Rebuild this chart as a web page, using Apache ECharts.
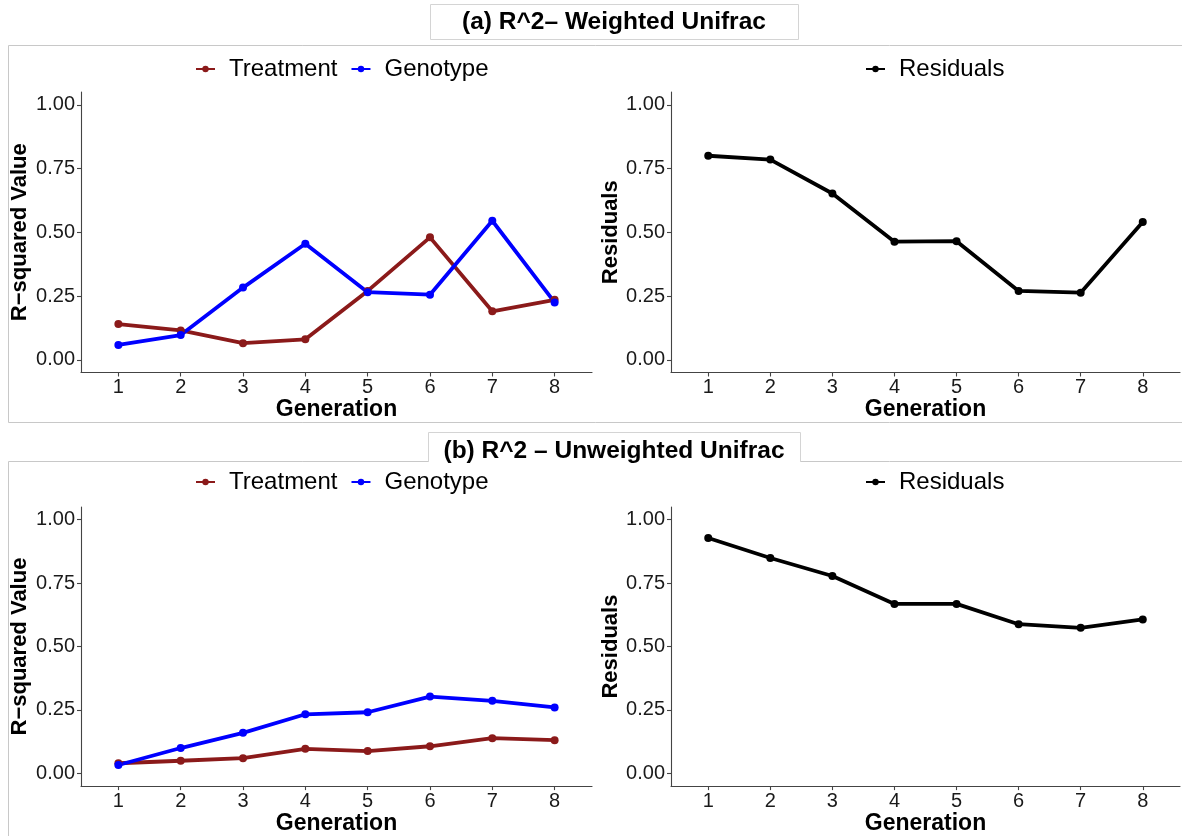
<!DOCTYPE html>
<html>
<head>
<meta charset="utf-8">
<script src="https://cdn.jsdelivr.net/npm/echarts@6/dist/echarts.min.js"></script>
<style>
  html, body { margin: 0; padding: 0; background: #ffffff; }
  #chart { width: 1182px; height: 836px; }
</style>
</head>
<body>
<div id="chart"></div>
<script>
// Generations on the x axis
const generations = [1, 2, 3, 4, 5, 6, 7, 8];
const yTicks = [0, 0.25, 0.5, 0.75, 1];

// (a) Weighted UniFrac: R^2 per term and residual share
const weightedTreatment = [0.140, 0.115, 0.065, 0.080, 0.270, 0.480, 0.190, 0.235];
const weightedGenotype  = [0.058, 0.097, 0.283, 0.455, 0.265, 0.255, 0.545, 0.225];
const weightedResiduals = [0.800, 0.785, 0.652, 0.463, 0.465, 0.270, 0.263, 0.540];

// (b) Unweighted UniFrac
const unweightedTreatment = [0.040, 0.050, 0.060, 0.097, 0.088, 0.107, 0.139, 0.131];
const unweightedGenotype  = [0.033, 0.100, 0.160, 0.233, 0.241, 0.303, 0.286, 0.260];
const unweightedResiduals = [0.928, 0.849, 0.778, 0.668, 0.668, 0.588, 0.574, 0.607];

const titleA = '(a) R^2\u2013 Weighted Unifrac';
const titleB = '(b) R^2 \u2013 Unweighted Unifrac';

const FONT = '"Liberation Sans", Arial, Helvetica, sans-serif';
const RED = '#8B1A1A';
const BLUE = '#0000FF';
const BLACK = '#000000';

const pairs = vals => generations.map((g, i) => [g, vals[i]]);

// Grid boxes (left, top, width, height)
const grids = [
  { left: 81,  top: 92,  width: 511, height: 280.5 },
  { left: 671, top: 92,  width: 509, height: 280.5 },
  { left: 81,  top: 507, width: 511, height: 280 },
  { left: 671, top: 507, width: 509, height: 280 }
];

const axisLineStyle = { color: '#444444', width: 1.1 };

const xAxes = grids.map((g, i) => ({
  type: 'value',
  gridIndex: i,
  min: 0.4,
  max: 8.6,
  name: 'Generation',
  nameLocation: 'middle',
  nameGap: 23,
  nameTextStyle: { fontFamily: FONT, fontSize: 23, fontWeight: 'bold', color: '#000' },
  axisLine: { show: true, onZero: false, lineStyle: axisLineStyle },
  axisTick: { show: true, length: 4, lineStyle: axisLineStyle, customValues: generations },
  axisLabel: {
    fontFamily: FONT, fontSize: 20, color: '#1a1a1a', margin: 5,
    customValues: generations,
    formatter: v => String(Math.round(v))
  },
  splitLine: { show: false }
}));

const yNames = ['R\u2212squared Value', 'Residuals', 'R\u2212squared Value', 'Residuals'];
const yGaps = [50, 43, 50, 43];

const yAxes = grids.map((g, i) => ({
  type: 'value',
  gridIndex: i,
  min: -0.05,
  max: 1.05,
  name: yNames[i],
  nameLocation: 'middle',
  nameGap: yGaps[i],
  nameRotate: 90,
  nameTextStyle: { fontFamily: FONT, fontSize: 22, fontWeight: 'bold', color: '#000' },
  axisLine: { show: true, onZero: false, lineStyle: axisLineStyle },
  axisTick: { show: true, length: 4, lineStyle: axisLineStyle, customValues: yTicks },
  axisLabel: {
    fontFamily: FONT, fontSize: 20, color: '#1a1a1a', margin: 6,
    customValues: yTicks,
    formatter: v => v.toFixed(2)
  },
  splitLine: { show: false }
}));

function lineSeries(name, color, vals, idx) {
  return {
    name: name,
    type: 'line',
    xAxisIndex: idx,
    yAxisIndex: idx,
    data: pairs(vals),
    symbol: 'circle',
    symbolSize: 8,
    showSymbol: true,
    lineStyle: { color: color, width: 3.8 },
    itemStyle: { color: color },
    silent: true,
    animation: false
  };
}

const series = [
  lineSeries('Treatment', RED, weightedTreatment, 0),
  lineSeries('Genotype', BLUE, weightedGenotype, 0),
  lineSeries('Residuals', BLACK, weightedResiduals, 1),
  lineSeries('Treatment', RED, unweightedTreatment, 2),
  lineSeries('Genotype', BLUE, unweightedGenotype, 2),
  lineSeries('Residuals', BLACK, unweightedResiduals, 3)
];

function legend(names, left, top) {
  return {
    data: names,
    left: left,
    top: top,
    padding: 0,
    orient: 'horizontal',
    itemWidth: 19,
    itemHeight: 8,
    itemGap: 13,
    selectedMode: false,
    textStyle: { fontFamily: FONT, fontSize: 24, color: '#000', padding: [0, 0, 0, 9] }
  };
}

const legends = [
  legend(['Treatment', 'Genotype'], 195, 57),
  legend(['Residuals'], 865, 57),
  legend(['Treatment', 'Genotype'], 195, 470),
  legend(['Residuals'], 865, 470)
];

// Panel frames and title boxes
const frameStroke = '#c8c8c8';
const graphic = [
  { type: 'rect', shape: { x: 8.5, y: 45.5, width: 1180, height: 377 },
    style: { fill: 'none', stroke: frameStroke, lineWidth: 1 }, silent: true, z: 0 },
  { type: 'rect', shape: { x: 430.5, y: 4.5, width: 368, height: 35 },
    style: { fill: '#ffffff', stroke: '#d4d4d4', lineWidth: 1 }, silent: true, z: 1 },
  { type: 'text', x: 614, y: 22,
    style: { text: titleA, fontFamily: FONT, fontSize: 24.5, fontWeight: 'bold', fill: '#000',
             textAlign: 'center', textVerticalAlign: 'middle' }, silent: true, z: 2 },
  { type: 'rect', shape: { x: 8.5, y: 461.5, width: 1180, height: 400 },
    style: { fill: 'none', stroke: frameStroke, lineWidth: 1 }, silent: true, z: 0 },
  { type: 'rect', shape: { x: 428.5, y: 432.5, width: 372, height: 29 },
    style: { fill: '#ffffff', stroke: '#d4d4d4', lineWidth: 1 }, silent: true, z: 1 },
  { type: 'rect', shape: { x: 429, y: 459, width: 371, height: 4 },
    style: { fill: '#ffffff' }, silent: true, z: 1 },
  { type: 'text', x: 614, y: 451,
    style: { text: titleB, fontFamily: FONT, fontSize: 24.5, fontWeight: 'bold', fill: '#000',
             textAlign: 'center', textVerticalAlign: 'middle' }, silent: true, z: 2 }
];

const chart = echarts.init(document.getElementById('chart'), null, { renderer: 'canvas' });
chart.setOption({
  animation: false,
  backgroundColor: '#ffffff',
  textStyle: { fontFamily: FONT },
  grid: grids.map(g => Object.assign({ containLabel: false }, g)),
  xAxis: xAxes,
  yAxis: yAxes,
  legend: legends,
  series: series,
  graphic: graphic
});
</script>
</body>
</html>
